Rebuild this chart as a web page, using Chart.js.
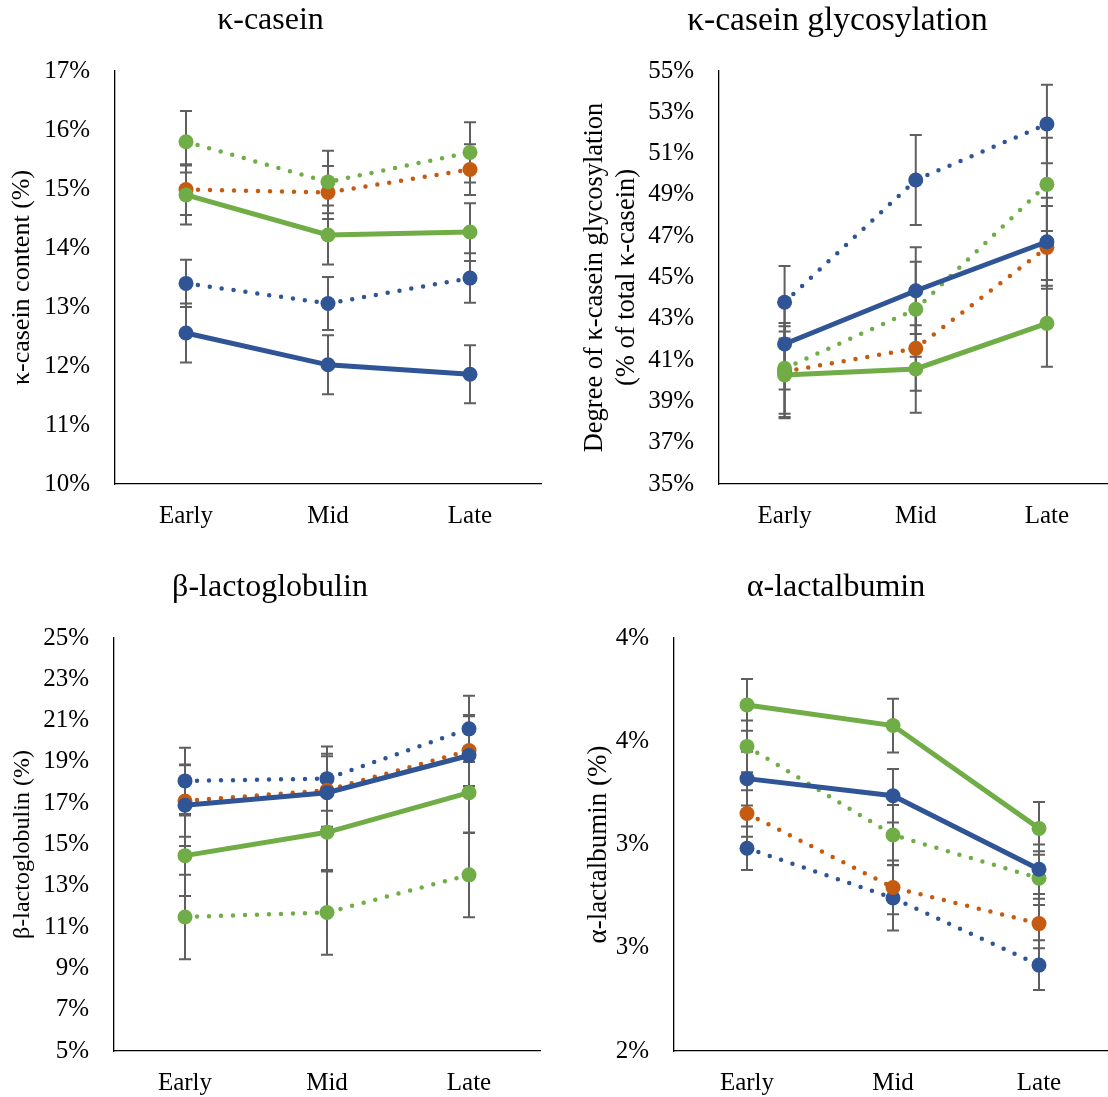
<!DOCTYPE html>
<html>
<head>
<meta charset="utf-8">
<script src="https://cdn.jsdelivr.net/npm/chart.js@4.4.1/dist/chart.umd.min.js"></script>
<style>
  html, body { margin: 0; padding: 0; background: #fff; overflow: hidden; }
  body { width: 1108px; height: 1097px; position: relative; }
  canvas { position: absolute; }
</style>
</head>
<body>
<canvas id="kcn" width="560" height="529" style="left:0;top:0"></canvas>
<canvas id="glyco" width="560" height="529" style="left:560px;top:0"></canvas>
<canvas id="blg" width="560" height="529" style="left:0;top:567px"></canvas>
<canvas id="ala" width="560" height="529" style="left:560px;top:567px"></canvas>
<script>
const stages = ['Early', 'Mid', 'Late'];

// series order in every panel: blue solid, green solid, blue dotted, orange dotted, green dotted
const kcnMeans = [[12.56, 12.02, 11.86], [14.90, 14.22, 14.27], [13.40, 13.06, 13.49], [14.99, 14.94, 15.33], [15.80, 15.12, 15.62]];
const kcnErr   = [[0.50, 0.50, 0.49], [0.50, 0.50, 0.49], [0.40, 0.45, 0.42], [0.43, 0.45, 0.43], [0.52, 0.53, 0.51]];

const glycoMeans = [[41.78, 44.36, 46.73], [40.28, 40.57, 42.78], [43.80, 49.72, 52.43], [40.44, 41.57, 46.46], [40.60, 43.46, 49.51]];
const glycoErr   = [[2.20, 2.10, 2.13], [2.10, 2.12, 2.10], [1.76, 2.18, 1.90], [2.20, 2.05, 2.00], [2.20, 2.30, 2.26]];

const blgMeans = [[16.90, 17.51, 19.31], [14.46, 15.59, 17.51], [18.08, 18.19, 20.60], [17.11, 17.63, 19.55], [11.49, 11.71, 13.53]];
const blgErr   = [[1.97, 1.76, 1.90], [1.95, 1.90, 1.95], [1.60, 1.56, 1.60], [1.73, 1.77, 1.72], [2.05, 2.05, 2.05]];

const alaMeans = [[3.319, 3.236, 2.880], [3.676, 3.576, 3.078], [2.982, 2.741, 2.416], [3.150, 2.792, 2.617], [3.475, 3.046, 2.837]];
const alaErr   = [[0.130, 0.130, 0.120], [0.125, 0.130, 0.128], [0.105, 0.158, 0.120], [0.113, 0.130, 0.120], [0.125, 0.145, 0.130]];

const serif = '"Liberation Serif", "Times New Roman", serif';
const BLUE = '#2F5597', GREEN = '#70AD47', ORANGE = '#C55A11';

// colour, dotted?, draw order (lower = on top)
const styles = [
  { color: BLUE, dotted: false, order: 2 },
  { color: GREEN, dotted: false, order: 1 },
  { color: BLUE, dotted: true, order: 5 },
  { color: ORANGE, dotted: true, order: 4 },
  { color: GREEN, dotted: true, order: 3 }
];

// error bars drawn under the lines, through the chart scales
const errorBars = {
  id: 'errorBars',
  beforeDatasetsDraw(chart) {
    const { ctx } = chart;
    const x = chart.scales.x, y = chart.scales.y;
    ctx.save();
    ctx.strokeStyle = '#5f5f5f';
    ctx.lineWidth = 2;
    chart.data.datasets.forEach(ds => {
      ds.errors.forEach((e, j) => {
        const px = x.getPixelForValue(j);
        const hi = y.getPixelForValue(ds.data[j] + e);
        const lo = y.getPixelForValue(ds.data[j] - e);
        ctx.beginPath();
        ctx.moveTo(px, hi); ctx.lineTo(px, lo);
        ctx.moveTo(px - 6, hi); ctx.lineTo(px + 6, hi);
        ctx.moveTo(px - 6, lo); ctx.lineTo(px + 6, lo);
        ctx.stroke();
      });
    });
    ctx.restore();
  }
};

function panel(id, title, yTitle, means, errs, cfg) {
  const datasets = means.map((m, i) => {
    const s = styles[i];
    return {
      label: 'Series ' + (i + 1),
      data: m,
      errors: errs[i],
      order: s.order,
      borderColor: s.color,
      backgroundColor: s.color,
      borderWidth: s.dotted ? 4.5 : 5,
      borderDash: s.dotted ? [0, 12] : [],
      borderCapStyle: 'round',
      pointRadius: 7.5,
      pointBorderWidth: 0,
      pointBackgroundColor: s.color,
      tension: 0
    };
  });

  new Chart(document.getElementById(id), {
    type: 'line',
    data: { labels: stages, datasets: datasets },
    plugins: [errorBars],
    options: {
      responsive: false,
      animation: false,
      devicePixelRatio: 1,
      layout: { padding: { left: 0, right: cfg.padRight, top: 0, bottom: 0 } },
      plugins: {
        legend: { display: false },
        tooltip: { enabled: false },
        title: {
          display: true,
          text: title,
          color: '#000',
          font: { family: serif, size: cfg.titleSize, weight: 'normal' },
          padding: { top: 1, bottom: 71 - 1 - cfg.titleSize * 1.2 }
        }
      },
      scales: {
        x: {
          offset: true,
          grid: { display: false, drawTicks: false },
          border: { display: true, color: '#000', width: 1.3 },
          ticks: { color: '#000', padding: 17.6, font: { family: serif, size: 25 } },
          afterFit: s => { s.height = 45; }
        },
        y: {
          min: cfg.min,
          max: cfg.max,
          grid: { display: false, drawTicks: false },
          border: { display: true, color: '#000', width: 1.3 },
          ticks: {
            stepSize: cfg.step,
            color: '#000',
            padding: 25,
            font: { family: serif, size: 25 },
            callback: cfg.fmt || (v => v + '%')
          },
          title: {
            display: true,
            text: yTitle,
            color: '#000',
            font: { family: serif, size: cfg.axisSize, lineHeight: 1.2 },
            padding: { top: cfg.titlePad, bottom: 0 }
          },
          afterFit: s => { s.width = cfg.yWidth; }
        }
      }
    }
  });
}

panel('kcn', 'κ-casein', 'κ-casein content (%)', kcnMeans, kcnErr,
  { min: 10, max: 17, step: 1, yWidth: 115, padRight: 19, titlePad: 7, axisSize: 26, titleSize: 32 });
panel('glyco', 'κ-casein glycosylation', ['Degree of κ-casein glycosylation', '(% of total κ-casein)'], glycoMeans, glycoErr,
  { min: 35, max: 55, step: 2, yWidth: 159, padRight: 5, titlePad: 19, axisSize: 26.5, titleSize: 33.5 });
panel('blg', 'β-lactoglobulin', 'β-lactoglobulin (%)', blgMeans, blgErr,
  { min: 5, max: 25, step: 2, yWidth: 114, padRight: 20, titlePad: 8, axisSize: 24, titleSize: 32 });
panel('ala', 'α-lactalbumin', 'α-lactalbumin (%)', alaMeans, alaErr,
  { min: 2, max: 4, step: 0.5, yWidth: 114, padRight: 8, titlePad: 23, axisSize: 27, titleSize: 32, fmt: v => Math.round(v) + '%' });
</script>
</body>
</html>
